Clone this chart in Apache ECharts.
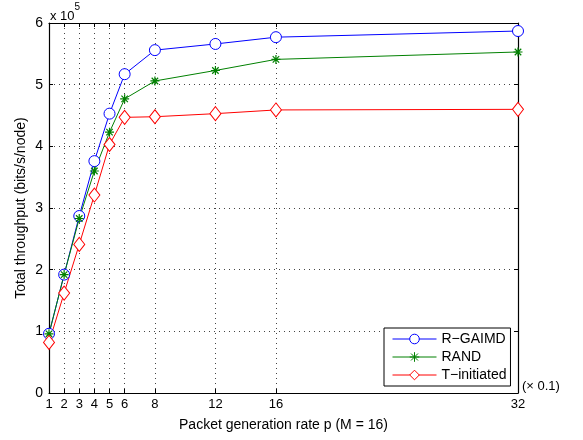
<!DOCTYPE html>
<html><head><meta charset="utf-8">
<script src="https://cdn.jsdelivr.net/npm/echarts@6/dist/echarts.min.js"></script>
<style>html,body{margin:0;padding:0;background:#fff}#c{width:583px;height:440px}</style>
</head><body><div id="c"></div>
<script>
const xTicks = [1, 2, 3, 4, 5, 6, 8, 12, 16, 32];
const xValues = [1, 2, 3, 4, 5, 6, 8, 12, 16, 32];
const yTicks = [0, 1, 2, 3, 4, 5, 6];
const rGaimd = [0.96, 1.92, 2.87, 3.76, 4.53, 5.17, 5.56, 5.66, 5.77, 5.87];
const rand = [0.96, 1.92, 2.83, 3.60, 4.23, 4.77, 5.06, 5.23, 5.41, 5.53];
const tInit = [0.82, 1.62, 2.41, 3.21, 4.03, 4.47, 4.48, 4.53, 4.59, 4.60];
const seriesNames = ['R\u2212GAIMD', 'RAND', 'T\u2212initiated'];

const FONT = 'Liberation Sans, Arial, Helvetica, sans-serif';
const pair = arr => xValues.map((x, i) => [x, arr[i]]);
const star = 'path://M0,-5L0,5M-5,0L5,0M-3.6,-3.6L3.6,3.6M-3.6,3.6L3.6,-3.6';

const chart = echarts.init(document.getElementById('c'), null, {renderer: 'canvas'});
const gridLine = {show: true, lineStyle: {color: '#444', width: 1, type: [1, 4]}};
chart.setOption({
  animation: false,
  grid: {left: 49, right: 65, top: 23, bottom: 47},
  xAxis: [{
    type: 'value', min: 1, max: 32, position: 'bottom',
    name: 'Packet generation rate p (M = 16)', nameLocation: 'middle', nameGap: 25,
    nameTextStyle: {fontFamily: FONT, fontSize: 14, color: '#000'},
    axisLine: {show: true, onZero: false, lineStyle: {color: '#000', width: 1.2}},
    axisTick: {show: true, inside: true, length: 4, customValues: xTicks, lineStyle: {color: '#000'}},
    axisLabel: {customValues: xTicks, fontFamily: FONT, fontSize: 13, color: '#000', margin: 5},
    splitLine: gridLine
  }, {
    type: 'value', min: 1, max: 32, position: 'top',
    axisLine: {show: true, onZero: false, lineStyle: {color: '#000', width: 1.2}},
    axisTick: {show: true, inside: true, length: 4, customValues: xTicks, lineStyle: {color: '#000'}},
    axisLabel: {show: false}, splitLine: {show: false}
  }],
  yAxis: [{
    type: 'value', min: 0, max: 6, interval: 1, position: 'left',
    name: 'Total throughput (bits/s/node)', nameLocation: 'middle', nameGap: 21,
    nameMoveOverlap: false,
    nameTextStyle: {fontFamily: FONT, fontSize: 14, color: '#000'},
    axisLine: {show: true, onZero: false, lineStyle: {color: '#000', width: 1.2}},
    axisTick: {show: true, inside: true, length: 4, lineStyle: {color: '#000'}},
    axisLabel: {fontFamily: FONT, fontSize: 14, color: '#000', margin: 6,
      formatter: v => yTicks.includes(v) ? String(v) : ''},
    splitLine: gridLine
  }, {
    type: 'value', min: 0, max: 6, interval: 1, position: 'right',
    axisLine: {show: true, onZero: false, lineStyle: {color: '#000', width: 1.2}},
    axisTick: {show: true, inside: true, length: 4, lineStyle: {color: '#000'}},
    axisLabel: {show: false}, splitLine: {show: false}
  }],
  legend: {
    left: 384, top: 328, orient: 'vertical',
    backgroundColor: '#fff', borderColor: '#000', borderWidth: 1,
    padding: [4, 4, 4, 8], itemGap: 4, itemWidth: 44, itemHeight: 12,
    itemStyle: {borderWidth: 1}, lineStyle: {width: 1},
    textStyle: {fontFamily: FONT, fontSize: 14, color: '#000'},
    data: seriesNames
  },
  graphic: [{
    type: 'text', left: 50, top: 2,
    style: {
      text: '{a|x 10}{b|5}', fill: '#000',
      rich: {a: {fontFamily: FONT, fontSize: 13, padding: [8, 0, 0, 0]}, b: {fontFamily: FONT, fontSize: 10, verticalAlign: 'top'}}
    }
  }, {
    type: 'text', left: 522, top: 380,
    style: {text: '(\u00d7 0.1)', fontFamily: FONT, fontSize: 13, fill: '#000'}
  }],
  series: [{
    name: seriesNames[0], type: 'line', data: pair(rGaimd),
    symbol: 'circle', symbolSize: 11,
    lineStyle: {color: '#0000ff', width: 1},
    itemStyle: {color: '#fff', borderColor: '#0000ff', borderWidth: 1}
  }, {
    name: seriesNames[1], type: 'line', data: pair(rand),
    symbol: star, symbolSize: 9,
    lineStyle: {color: '#008000', width: 1},
    itemStyle: {color: '#008000', borderColor: '#008000', borderWidth: 1.2}
  }, {
    name: seriesNames[2], type: 'line', data: pair(tInit),
    symbol: 'diamond', symbolSize: [11, 14],
    lineStyle: {color: '#ff0000', width: 1},
    itemStyle: {color: '#fff', borderColor: '#ff0000', borderWidth: 1}
  }]
});
</script></body></html>
